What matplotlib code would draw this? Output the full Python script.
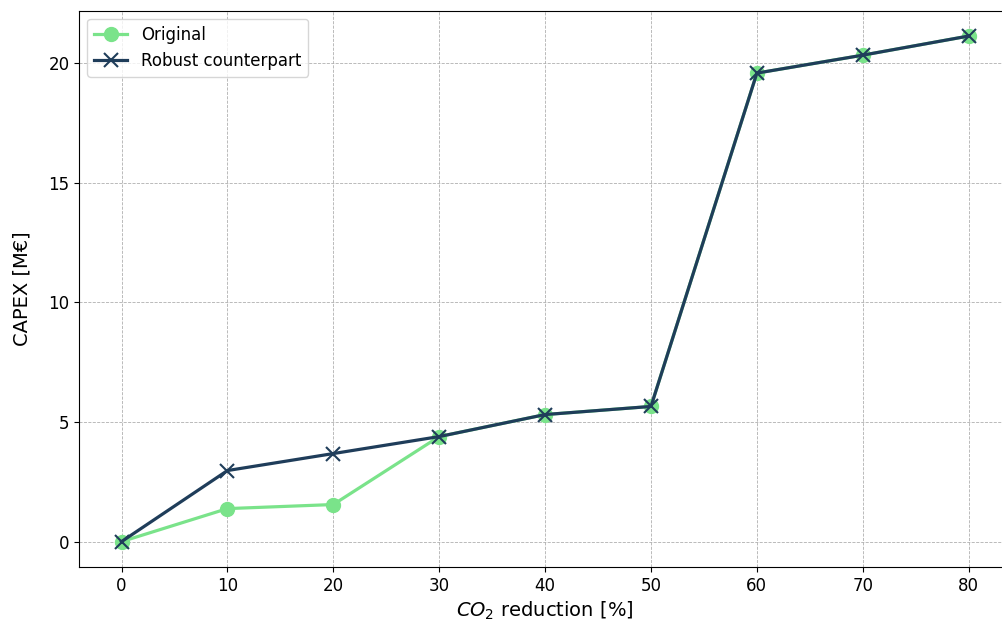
import matplotlib
matplotlib.use("Agg")
import matplotlib.pyplot as plt

co2_reduction = [0, 10, 20, 30, 40, 50, 60, 70, 80]
capex_original = [0.0, 1.38, 1.55, 4.39, 5.31, 5.65, 19.58, 20.33, 21.13]
capex_robust = [0.0, 2.97, 3.68, 4.39, 5.31, 5.65, 19.58, 20.33, 21.13]

fig, ax = plt.subplots(figsize=(10.02, 6.32), dpi=100)

ax.plot(co2_reduction, capex_original, color="#7ae38a", marker="o",
        markersize=10, linewidth=2.3, label="Original")
ax.plot(co2_reduction, capex_robust, color="#1f3d5a", marker="x",
        markersize=10, markeredgewidth=1.5, linewidth=2.3,
        label="Robust counterpart")

ax.set_xticks(co2_reduction)
ax.set_xlabel(r"$CO_2$ reduction [%]", fontsize=14)
ax.set_ylabel("CAPEX [M€]", fontsize=14, labelpad=12)
ax.tick_params(labelsize=12)
ax.grid(True, linestyle="--", linewidth=0.6, color="#b0b0b0")
ax.legend(loc="upper left", fontsize=12)

# the reference is cropped on the right, so the axes run past the edge
fig.subplots_adjust(left=0.079, right=1.009, top=0.983, bottom=0.103)
fig.savefig("out.png")
